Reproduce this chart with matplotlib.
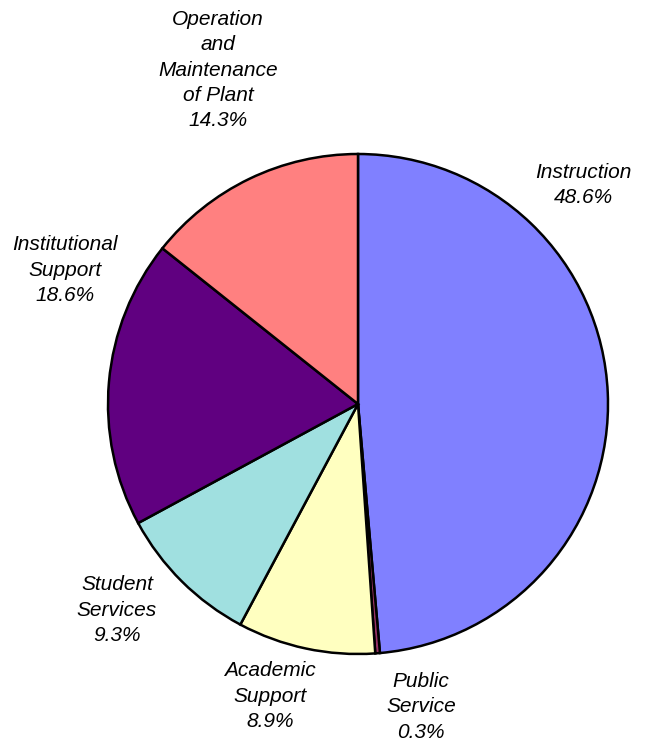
import matplotlib.pyplot as plt

# Expenditure shares by function
categories = ['Instruction', 'Public\nService', 'Academic\nSupport', 'Student\nServices',
              'Institutional\nSupport', 'Operation\nand\nMaintenance\nof Plant']
shares = [48.6, 0.3, 8.9, 9.3, 18.6, 14.3]
colors = ['#8080FF', '#993366', '#FFFFC0', '#A0E0E0', '#600080', '#FF8080']

# label anchor points (axes data units, pie radius = 1)
label_pos = [(0.90, 0.876), (0.252, -1.212), (-0.352, -1.168), (-0.964, -0.824),
             (-1.172, 0.536), (-0.56, 1.336)]

fig = plt.figure(figsize=(6.46, 7.42), dpi=100)
cx, cy, r = 358, 404, 250
ax = fig.add_axes([(cx - r) / 646, (742 - cy - r) / 742, 2 * r / 646, 2 * r / 742])

wedges, _ = ax.pie(shares, colors=colors, startangle=90, counterclock=False, radius=1,
                   wedgeprops=dict(edgecolor='black', linewidth=1.8))
ax.set_xlim(-1, 1)
ax.set_ylim(-1, 1)
ax.set_aspect('equal')

for name, val, (x, y) in zip(categories, shares, label_pos):
    ax.text(x, y, f'{name}\n{val:.1f}%', ha='center', va='center', fontsize=15,
            style='italic', family='Liberation Sans', linespacing=1.42, clip_on=False)

fig.savefig('out.png', dpi=100)
